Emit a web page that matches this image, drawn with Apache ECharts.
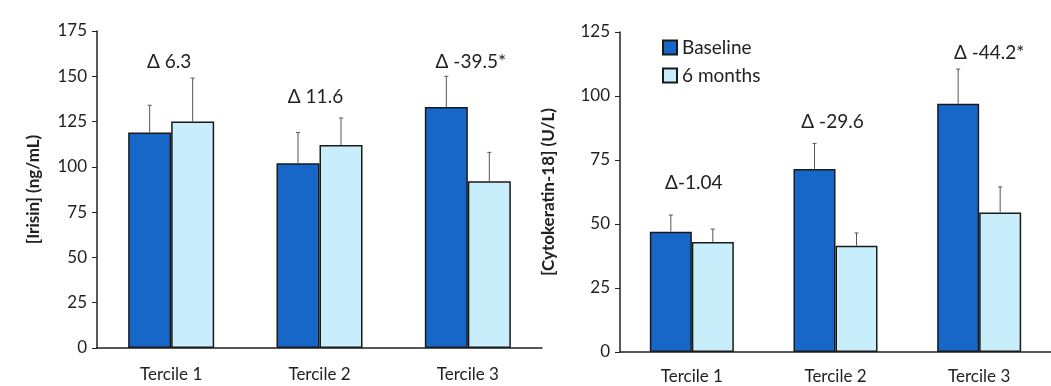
<!DOCTYPE html>
<html>
<head>
<meta charset="utf-8">
<script src="https://cdn.jsdelivr.net/npm/echarts@6/dist/echarts.min.js"></script>
<style>
  html, body { margin: 0; padding: 0; background: #fff; }
  #chart { width: 1051px; height: 386px; }
</style>
</head>
<body>
<div id="chart"></div>
<script>
// data
var categories = ['Tercile 1', 'Tercile 2', 'Tercile 3'];

var irisinBaseline = [119, 102, 133];
var irisinBaselineErr = [15, 17, 17];
var irisin6m = [125, 112, 92];
var irisin6mErr = [24, 15, 16];
var irisinDeltas = ['Δ 6.3', 'Δ 11.6', 'Δ -39.5*'];

var ck18Baseline = [47, 71.5, 97];
var ck18BaselineErr = [6.5, 10, 13.5];
var ck186m = [43, 41.5, 54.5];
var ck186mErr = [5, 5, 10];
var ck18Deltas = ['Δ-1.04', 'Δ -29.6', 'Δ -44.2*'];

var irisinTicks = { max: 175, interval: 25 };
var ck18Ticks = { max: 125, interval: 25 };

var FONT = 'Lato, "Open Sans", sans-serif';
var DARK = '#1767c9';
var LIGHT = '#c9eefb';

function errData(vals, errs) {
  return vals.map(function (v, i) { return [i, v, errs[i]]; });
}

// vertical up-only error bar, shifted to the bar centre
function errRender(shift) {
  return function (params, api) {
    var p0 = api.coord([api.value(0), api.value(1)]);
    var p1 = api.coord([api.value(0), api.value(1) + api.value(2)]);
    var x = p0[0] + shift;
    var st = { stroke: '#555', lineWidth: 1 };
    return {
      type: 'group',
      children: [
        { type: 'line', shape: { x1: x, y1: p0[1], x2: x, y2: p1[1] }, style: st },
        { type: 'line', shape: { x1: x - 2, y1: p1[1], x2: x + 2, y2: p1[1] }, style: st }
      ]
    };
  };
}

function deltaData(b, be, m, me) {
  return b.map(function (v, i) { return [i, Math.max(v + be[i], m[i] + me[i])]; });
}

function deltaRender(texts, dys) {
  return function (params, api) {
    var i = api.value(0);
    var p = api.coord([i, api.value(1)]);
    return {
      type: 'text',
      x: p[0] + dys[i][0],
      y: p[1] - dys[i][1],
      style: {
        text: texts[i], font: '19px ' + FONT, fill: '#222',
        align: 'center', verticalAlign: 'middle'
      }
    };
  };
}

function barSeries(name, data, color, idx, w) {
  return {
    name: name, type: 'bar', data: data,
    xAxisIndex: idx, yAxisIndex: idx,
    barWidth: w, barGap: '0%',
    itemStyle: { color: color, borderColor: '#1a1a1a', borderWidth: 1.5 }
  };
}

function yAxis(gi, ticks, name, gap) {
  return {
    type: 'value', gridIndex: gi, min: 0, max: ticks.max, interval: ticks.interval,
    name: name, nameLocation: 'middle', nameGap: gap,
    nameTextStyle: { fontFamily: FONT, fontSize: 17, fontWeight: 'bold', color: '#222' },
    axisLine: { show: true, lineStyle: { color: '#222', width: 1.5 } },
    axisTick: { show: true, length: 5, lineStyle: { color: '#222' } },
    axisLabel: { fontFamily: FONT, fontSize: 17, color: '#222', margin: 10 },
    splitLine: { show: false }
  };
}

function xAxis(gi, margin) {
  return {
    type: 'category', gridIndex: gi, data: categories,
    axisLine: { lineStyle: { color: '#222', width: 1.5 } },
    axisTick: { show: false },
    axisLabel: { fontFamily: FONT, fontSize: 17, color: '#222', margin: margin }
  };
}

var chart = echarts.init(document.getElementById('chart'));
chart.setOption({
  animation: false,
  backgroundColor: '#fff',
  grid: [
    { left: 97, right: 509, top: 31, bottom: 38 },
    { left: 620, right: -5, top: 32, bottom: 34 }
  ],
  legend: {
    data: ['Baseline', '6 months'],
    orient: 'vertical', left: 662, top: 38, icon: 'rect',
    itemWidth: 14, itemHeight: 14, itemGap: 9, padding: 0,
    textStyle: { fontFamily: FONT, fontSize: 19, color: '#222' }
  },
  xAxis: [xAxis(0, 18), xAxis(1, 16)],
  yAxis: [
    yAxis(0, irisinTicks, '[Irisin] (ng/mL)', 55),
    yAxis(1, ck18Ticks, '[Cytokeratin-18] (U/L)', 63)
  ],
  series: [
    barSeries('Baseline', irisinBaseline, DARK, 0, 43),
    barSeries('6 months', irisin6m, LIGHT, 0, 43),
    barSeries('Baseline', ck18Baseline, DARK, 1, 42),
    barSeries('6 months', ck186m, LIGHT, 1, 42),
    { type: 'custom', xAxisIndex: 0, yAxisIndex: 0, renderItem: errRender(-21.5), data: errData(irisinBaseline, irisinBaselineErr), z: 5 },
    { type: 'custom', xAxisIndex: 0, yAxisIndex: 0, renderItem: errRender(21.5), data: errData(irisin6m, irisin6mErr), z: 5 },
    { type: 'custom', xAxisIndex: 1, yAxisIndex: 1, renderItem: errRender(-21), data: errData(ck18Baseline, ck18BaselineErr), z: 5 },
    { type: 'custom', xAxisIndex: 1, yAxisIndex: 1, renderItem: errRender(21), data: errData(ck186m, ck186mErr), z: 5 },
    {
      type: 'custom', xAxisIndex: 0, yAxisIndex: 0, z: 6,
      renderItem: deltaRender(irisinDeltas, [[-2, 16], [-4, 21], [3, 14]]),
      data: deltaData(irisinBaseline, irisinBaselineErr, irisin6m, irisin6mErr)
    },
    {
      type: 'custom', xAxisIndex: 1, yAxisIndex: 1, z: 6,
      renderItem: deltaRender(ck18Deltas, [[2, 32], [-3, 21], [10, 16]]),
      data: deltaData(ck18Baseline, ck18BaselineErr, ck186m, ck186mErr)
    }
  ]
});
</script>
</body>
</html>
